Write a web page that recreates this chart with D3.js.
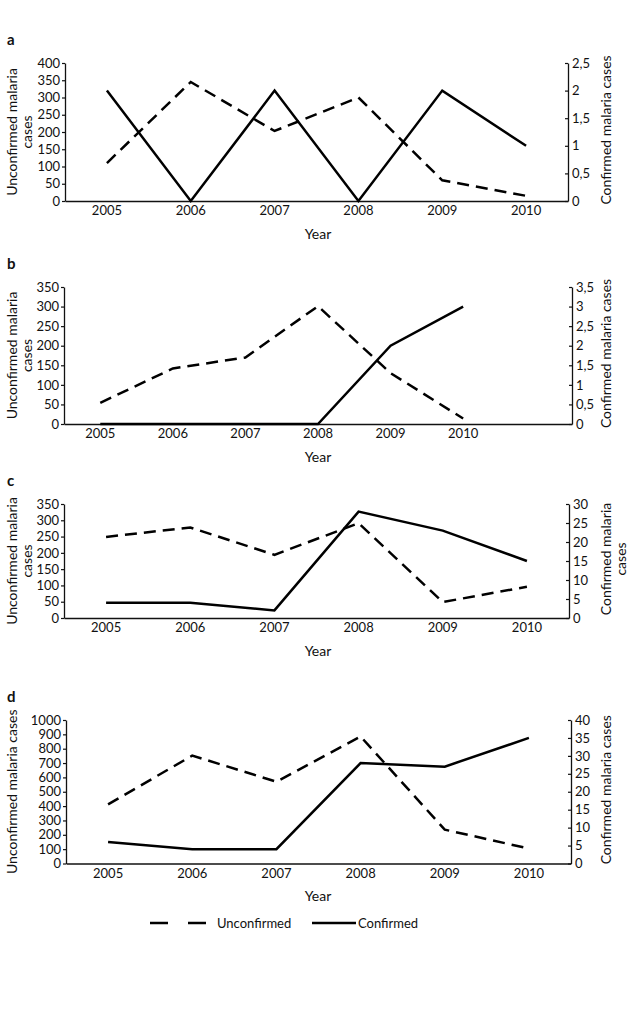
<!DOCTYPE html>
<html>
<head>
<meta charset="utf-8">
<script src="https://cdn.jsdelivr.net/npm/d3@7"></script>
<style>
  body { margin: 0; background: #fff; }
  svg text { font-family: Lato, "Open Sans", sans-serif; fill: #111; }
</style>
</head>
<body>
<div id="plot"></div>
<script>
// years on the category axis
var years = ["2005", "2006", "2007", "2008", "2009", "2010"];

// panel a
var unconfA = [110, 345, 203, 300, 60, 15];
var confA = [2, 0, 2, 0, 2, 1];
// panel b
var unconfB = [54, 142, 170, 301, 130, 14];
var confB = [0, 0, 0, 0, 2, 3];
// panel c
var unconfC = [249, 278, 194, 291, 49, 96];
var confC = [4, 4, 2, 28, 23, 15];
// panel d
var unconfD = [412, 752, 570, 885, 236, 104];
var confD = [6, 4, 4, 28, 27, 35];

// axis maxima and tick steps
var leftMax = [400, 350, 350, 1000];
var leftStep = [50, 50, 50, 100];
var rightMax = [2.5, 3.5, 30, 40];
var rightStep = [0.5, 0.5, 5, 5];

var letters = ["a", "b", "c", "d"];
var leftTitles = [["Unconfirmed malaria", "cases"], ["Unconfirmed malaria", "cases"],
                  ["Unconfirmed malaria", "cases"], ["Unconfirmed malaria cases"]];
var rightTitles = [["Confirmed malaria cases"], ["Confirmed malaria cases"],
                   ["Confirmed malaria", "cases"], ["Confirmed malaria cases"]];

// layout of each panel (pixels)
var boxes = [
  { left: 65, right: 568, top: 63, bottom: 201, bands: 6 },
  { left: 64, right: 572, top: 287, bottom: 424, bands: 7 },
  { left: 64, right: 569, top: 504, bottom: 618, bands: 6 },
  { left: 66, right: 571, top: 720, bottom: 863.5, bands: 6 }
];

var unconf = [unconfA, unconfB, unconfC, unconfD];
var conf = [confA, confB, confC, confD];

var svg = d3.select("#plot").append("svg")
  .attr("width", 628)
  .attr("height", 1025);

var commaFmt = function (d) { return String(d).replace(".", ","); };

boxes.forEach(function (b, i) {
  var g = svg.append("g");

  var domain = years.slice();
  if (b.bands > years.length) domain.push("");
  var x = d3.scaleBand().domain(domain).range([b.left, b.right]).padding(0);
  var xc = function (d, j) { return x(years[j]) + x.bandwidth() / 2; };

  var yL = d3.scaleLinear().domain([0, leftMax[i]]).range([b.bottom, b.top]);
  var yR = d3.scaleLinear().domain([0, rightMax[i]]).range([b.bottom, b.top]);

  var leftTicks = d3.range(0, leftMax[i] + 1e-9, leftStep[i]);
  var rightTicks = d3.range(0, rightMax[i] + 1e-9, rightStep[i]);

  var axL = g.append("g")
    .attr("transform", "translate(" + b.left + ",0)")
    .call(d3.axisLeft(yL).tickValues(leftTicks).tickFormat(d3.format("d"))
      .tickSize(3).tickPadding(2).tickSizeOuter(0));

  var axR = g.append("g")
    .attr("transform", "translate(" + b.right + ",0)")
    .call(d3.axisRight(yR).tickValues(rightTicks).tickFormat(commaFmt)
      .tickSize(-3).tickPadding(4).tickSizeOuter(0));

  var axX = g.append("g")
    .attr("transform", "translate(0," + b.bottom + ")")
    .call(d3.axisBottom(x).tickValues(years).tickSize(0).tickPadding(5).tickSizeOuter(0));

  [axL, axR, axX].forEach(function (ax) {
    ax.selectAll("path").attr("stroke", "#111").attr("stroke-width", 1.3);
    ax.selectAll("line").attr("stroke", "#111").attr("stroke-width", 1.2);
    ax.selectAll("text").attr("font-size", 13).attr("fill", "#111")
      .style("font-family", "Lato, 'Open Sans', sans-serif");
  });

  var midY = (b.top + b.bottom) / 2;

  // panel letter
  g.append("text")
    .attr("x", 7).attr("y", b.top - 23)
    .attr("dy", "0.35em")
    .attr("font-size", 15).attr("font-weight", "bold")
    .text(letters[i]);

  // left axis title
  leftTitles[i].forEach(function (t, k) {
    g.append("text")
      .attr("transform", "translate(" + (12 + k * 15) + "," + midY + ") rotate(-90)")
      .attr("text-anchor", "middle").attr("dy", "0.35em")
      .attr("font-size", 14)
      .text(t);
  });

  // right axis title
  rightTitles[i].forEach(function (t, k) {
    g.append("text")
      .attr("transform", "translate(" + (606 + k * 15) + "," + (midY - 2) + ") rotate(-90)")
      .attr("text-anchor", "middle").attr("dy", "0.35em")
      .attr("font-size", 14)
      .text(t);
  });

  // x axis title
  g.append("text")
    .attr("x", 318).attr("y", b.bottom + 33)
    .attr("text-anchor", "middle").attr("dy", "0.35em")
    .attr("font-size", 14)
    .text("Year");

  var lineL = d3.line().x(xc).y(function (d) { return yL(d); });
  var lineR = d3.line().x(xc).y(function (d) { return yR(d); });

  g.append("path")
    .datum(unconf[i])
    .attr("d", lineL)
    .attr("fill", "none")
    .attr("stroke", "#000")
    .attr("stroke-width", 2.5)
    .attr("stroke-dasharray", "12,7");

  g.append("path")
    .datum(conf[i])
    .attr("d", lineR)
    .attr("fill", "none")
    .attr("stroke", "#000")
    .attr("stroke-width", 2.5);
});

// legend
var legY = 923;
var leg = svg.append("g");
leg.append("line")
  .attr("x1", 150).attr("x2", 206).attr("y1", legY).attr("y2", legY)
  .attr("stroke", "#000").attr("stroke-width", 2.5)
  .attr("stroke-dasharray", "18,20");
leg.append("text")
  .attr("x", 217).attr("y", legY).attr("dy", "0.35em")
  .attr("font-size", 13).text("Unconfirmed");
leg.append("line")
  .attr("x1", 312).attr("x2", 356).attr("y1", legY).attr("y2", legY)
  .attr("stroke", "#000").attr("stroke-width", 2.5);
leg.append("text")
  .attr("x", 358).attr("y", legY).attr("dy", "0.35em")
  .attr("font-size", 13).text("Confirmed");
</script>
</body>
</html>
